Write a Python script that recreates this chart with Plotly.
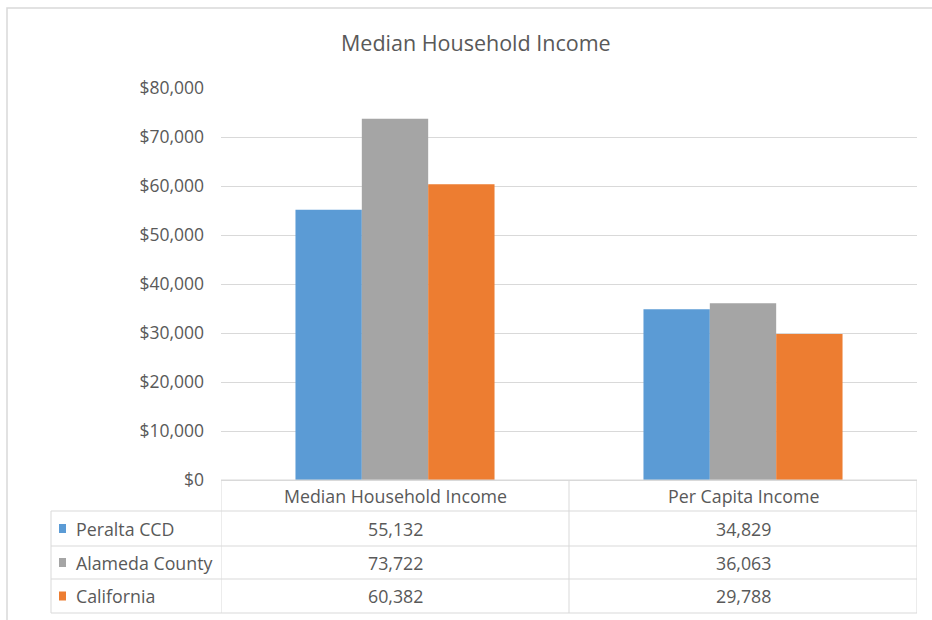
import plotly.graph_objects as go

# Data
categories = ["Median Household Income", "Per Capita Income"]
series_names = ["Peralta CCD", "Alameda County", "California"]
peralta_ccd = [55132, 34829]
alameda_county = [73722, 36063]
california = [60382, 29788]
series_values = [peralta_ccd, alameda_county, california]
series_colors = ["#5B9BD5", "#A5A5A5", "#ED7D31"]
y_tick_values = [0, 10000, 20000, 30000, 40000, 50000, 60000, 70000, 80000]

W, H = 932, 620
FONT = "Open Sans"
TEXT = "#595959"
LINE = "#D9D9D9"


def px(x):
    return x / W


def py(y):
    return 1 - y / H


fig = go.Figure()
for name, vals, col in zip(series_names, series_values, series_colors):
    fig.add_trace(go.Bar(name=name, x=categories, y=vals, marker_color=col,
                         marker_line_width=0))

# plot area in pixels
left, right, top, bottom = 221, 917, 88, 480
# table geometry in pixels
tbl_left = 51
row_lines = [511, 546, 579, 613]
header_mid = 496
row_mids = [528.5, 562.5, 596]

shapes = []
# outer chart frame
shapes.append(dict(type="rect", xref="paper", yref="paper",
                   x0=px(7), x1=px(W + 20), y0=py(H + 20), y1=py(8),
                   line=dict(color=LINE, width=1.5)))
# horizontal table rules
shapes.append(dict(type="line", xref="paper", yref="paper",
                   x0=px(left), x1=px(right), y0=py(bottom), y1=py(bottom),
                   line=dict(color=LINE, width=1)))
for yl in row_lines:
    shapes.append(dict(type="line", xref="paper", yref="paper",
                       x0=px(tbl_left), x1=px(right), y0=py(yl), y1=py(yl),
                       line=dict(color=LINE, width=1)))
# vertical table rules at category boundaries
for xb in [-0.5, 0.5, 1.5]:
    shapes.append(dict(type="line", xref="x", yref="paper",
                       x0=xb, x1=xb, y0=py(row_lines[-1]), y1=py(bottom),
                       line=dict(color=LINE, width=1)))
shapes.append(dict(type="line", xref="paper", yref="paper",
                   x0=px(tbl_left), x1=px(tbl_left),
                   y0=py(row_lines[-1]), y1=py(row_lines[0]),
                   line=dict(color=LINE, width=1)))
# legend keys in the table
for ym, col in zip(row_mids, series_colors):
    shapes.append(dict(type="rect", xref="paper", yref="paper",
                       x0=px(59), x1=px(66), y0=py(ym + 4.5), y1=py(ym - 4.5),
                       fillcolor=col, line=dict(width=0)))

annotations = []
annotations.append(dict(text="Median Household Income", xref="paper", yref="paper",
                        x=px(476), y=py(42), showarrow=False,
                        xanchor="center", yanchor="middle",
                        font=dict(family=FONT, size=21.5, color=TEXT)))
for cat in categories:
    annotations.append(dict(text=cat, xref="x", yref="paper", x=cat, y=py(header_mid),
                            showarrow=False, xanchor="center", yanchor="middle",
                            font=dict(family=FONT, size=17.8, color=TEXT)))
for name, vals, ym in zip(series_names, series_values, row_mids):
    annotations.append(dict(text=name, xref="paper", yref="paper", x=px(74), y=py(ym),
                            showarrow=False, xanchor="left", yanchor="middle",
                            font=dict(family=FONT, size=17.8, color=TEXT)))
    for cat, v in zip(categories, vals):
        annotations.append(dict(text=f"{v:,}", xref="x", yref="paper", x=cat, y=py(ym),
                                showarrow=False, xanchor="center", yanchor="middle",
                                font=dict(family=FONT, size=17.8, color=TEXT)))

fig.update_layout(
    width=W, height=H, autosize=False,
    margin=dict(l=0, r=0, t=0, b=0, pad=0, autoexpand=False),
    paper_bgcolor="white", plot_bgcolor="white",
    barmode="group", bargap=0.428, bargroupgap=0,
    showlegend=False,
    shapes=shapes, annotations=annotations,
    xaxis=dict(domain=[px(left), px(right)], range=[-0.5, 1.5],
               showticklabels=False, showgrid=False, zeroline=False,
               showline=False, ticks="", automargin=False),
    yaxis=dict(domain=[py(bottom), py(top)], range=[0, 80000],
               tickvals=y_tick_values, tickformat="$,.0f",
               showgrid=True, gridcolor=LINE, gridwidth=1,
               zeroline=True, zerolinecolor=LINE, zerolinewidth=1,
               showline=False, ticks="", ticklabelstandoff=16, automargin=False,
               tickfont=dict(family=FONT, size=17.5, color=TEXT)),
    font=dict(family=FONT, color=TEXT),
)

fig.write_html("out.html")
